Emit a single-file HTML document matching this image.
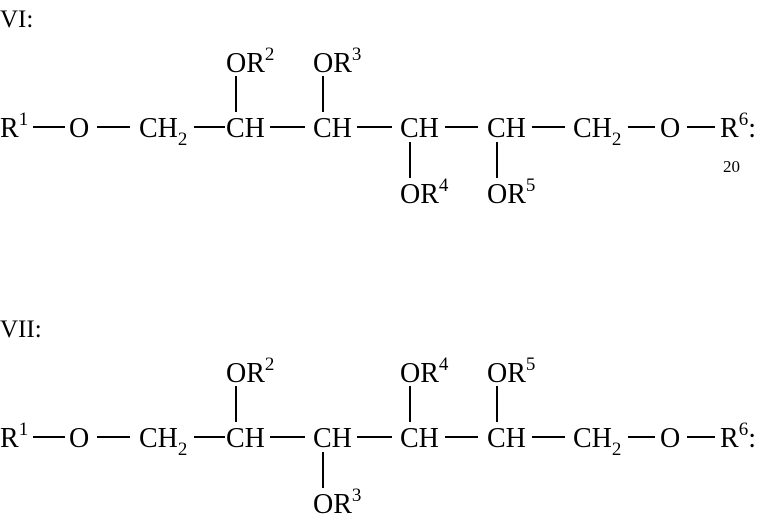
<!DOCTYPE html>
<html><head><meta charset="utf-8"><style>
html,body{margin:0;padding:0;background:#fff;}
svg{display:block}
text{font-family:"Liberation Serif",serif;fill:#000;font-size:28px}
.s{font-size:19px}
</style></head><body>
<svg width="766" height="516" viewBox="0 0 766 516" xmlns="http://www.w3.org/2000/svg">
<g stroke="#000" stroke-width="2">
<line x1="33" y1="127" x2="65" y2="127"/>
<line x1="97" y1="127" x2="130" y2="127"/>
<line x1="194" y1="127" x2="225" y2="127"/>
<line x1="270" y1="127" x2="305" y2="127"/>
<line x1="357" y1="127" x2="392" y2="127"/>
<line x1="445" y1="127" x2="478" y2="127"/>
<line x1="532" y1="127" x2="565" y2="127"/>
<line x1="628" y1="127" x2="655" y2="127"/>
<line x1="687" y1="127" x2="715" y2="127"/>
<line x1="236" y1="76" x2="236" y2="112"/>
<line x1="323" y1="76" x2="323" y2="112"/>
<line x1="410" y1="142" x2="410" y2="178"/>
<line x1="497" y1="142" x2="497" y2="178"/>
<g transform="translate(0,310)">
<line x1="33" y1="127" x2="65" y2="127"/>
<line x1="97" y1="127" x2="130" y2="127"/>
<line x1="194" y1="127" x2="225" y2="127"/>
<line x1="270" y1="127" x2="305" y2="127"/>
<line x1="357" y1="127" x2="392" y2="127"/>
<line x1="445" y1="127" x2="478" y2="127"/>
<line x1="532" y1="127" x2="565" y2="127"/>
<line x1="628" y1="127" x2="655" y2="127"/>
<line x1="687" y1="127" x2="715" y2="127"/>
<line x1="236" y1="76" x2="236" y2="112"/>
<line x1="323" y1="142" x2="323" y2="178"/>
<line x1="410" y1="76" x2="410" y2="112"/>
<line x1="497" y1="76" x2="497" y2="112"/>
</g>
</g>
<text x="0" y="27" style="font-size:25px">VI:</text>
<text x="0" y="337" style="font-size:25px">VII:</text>
<text x="0" y="137">R<tspan class="s" dy="-12">1</tspan></text>
<text x="69" y="137">O</text>
<text x="139" y="137">CH<tspan class="s" dy="8">2</tspan></text>
<text x="226" y="137">CH</text>
<text x="313" y="137">CH</text>
<text x="400" y="137">CH</text>
<text x="487" y="137">CH</text>
<text x="573" y="137">CH<tspan class="s" dy="8">2</tspan></text>
<text x="660" y="137">O</text>
<text x="720" y="137">R<tspan class="s" dy="-12">6</tspan><tspan dy="12">:</tspan></text>
<text x="226" y="72">OR<tspan class="s" dy="-12">2</tspan></text>
<text x="313" y="72">OR<tspan class="s" dy="-12">3</tspan></text>
<text x="400" y="203">OR<tspan class="s" dy="-12">4</tspan></text>
<text x="487" y="203">OR<tspan class="s" dy="-12">5</tspan></text>
<text x="723" y="172" style="font-size:17px">20</text>
<g transform="translate(0,310)">
<text x="0" y="137">R<tspan class="s" dy="-12">1</tspan></text>
<text x="69" y="137">O</text>
<text x="139" y="137">CH<tspan class="s" dy="8">2</tspan></text>
<text x="226" y="137">CH</text>
<text x="313" y="137">CH</text>
<text x="400" y="137">CH</text>
<text x="487" y="137">CH</text>
<text x="573" y="137">CH<tspan class="s" dy="8">2</tspan></text>
<text x="660" y="137">O</text>
<text x="720" y="137">R<tspan class="s" dy="-12">6</tspan><tspan dy="12">:</tspan></text>
<text x="226" y="72">OR<tspan class="s" dy="-12">2</tspan></text>
<text x="313" y="203">OR<tspan class="s" dy="-12">3</tspan></text>
<text x="400" y="72">OR<tspan class="s" dy="-12">4</tspan></text>
<text x="487" y="72">OR<tspan class="s" dy="-12">5</tspan></text>
</g>
</svg>
</body></html>
